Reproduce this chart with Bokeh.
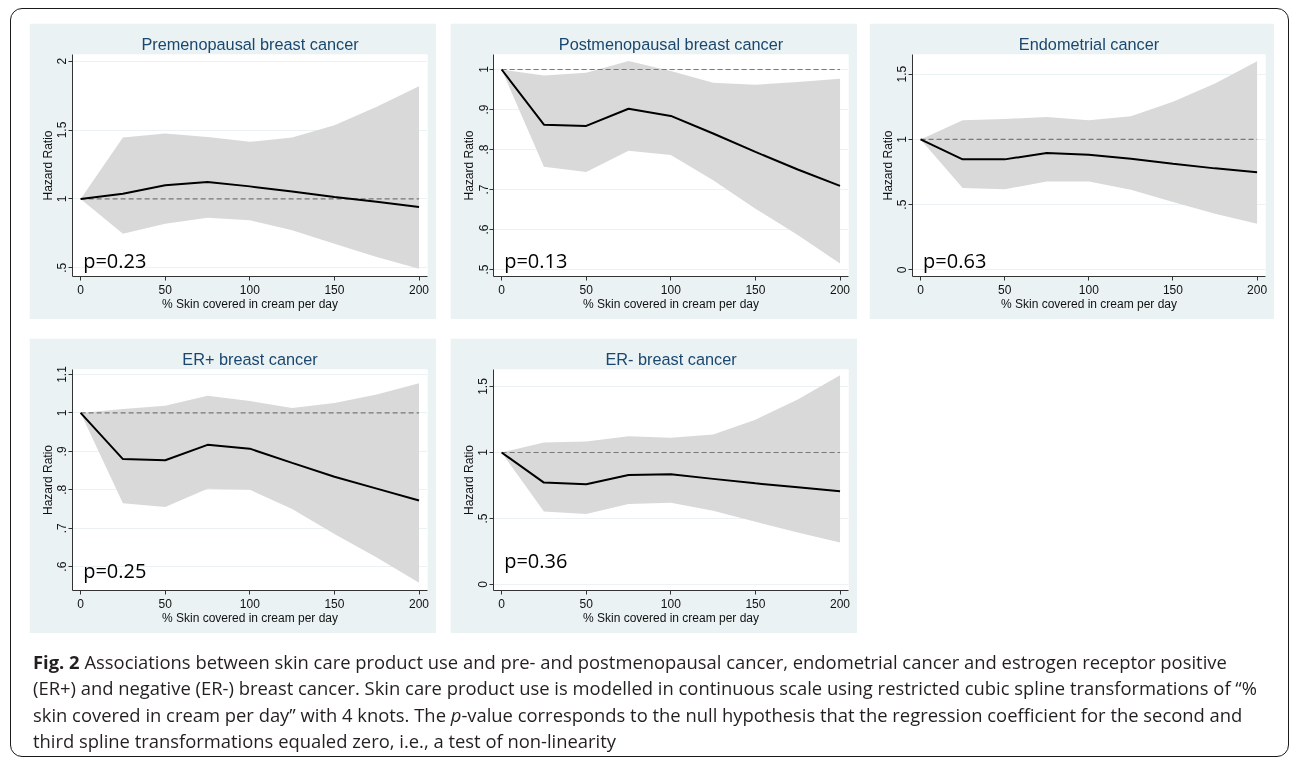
from bokeh.plotting import figure
from bokeh.layouts import row, column
from bokeh.models import Range1d, FixedTicker, Div, Label, Spacer, GlobalInlineStyleSheet
from bokeh.embed import file_html
from bokeh.resources import INLINE

# ---------------- data ----------------
X = [0, 25, 50, 75, 100, 125, 150, 175, 200]

TITLES = ["Premenopausal breast cancer", "Postmenopausal breast cancer",
          "Endometrial cancer", "ER+ breast cancer", "ER- breast cancer"]
PVALS = ["p=0.23", "p=0.13", "p=0.63", "p=0.25", "p=0.36"]

HR_pre = [1.0, 1.038, 1.099, 1.123, 1.091, 1.053, 1.014, 0.980, 0.941]
LO_pre = [1.0, 0.747, 0.820, 0.864, 0.845, 0.772, 0.675, 0.578, 0.493]
UP_pre = [1.0, 1.445, 1.474, 1.450, 1.414, 1.445, 1.535, 1.668, 1.818]

HR_post = [1.0, 0.862, 0.859, 0.902, 0.884, 0.840, 0.794, 0.750, 0.709]
LO_post = [1.0, 0.757, 0.744, 0.797, 0.786, 0.723, 0.652, 0.586, 0.515]
UP_post = [1.0, 0.985, 0.992, 1.021, 0.996, 0.967, 0.962, 0.969, 0.977]

HR_endo = [1.0, 0.847, 0.847, 0.896, 0.883, 0.852, 0.814, 0.778, 0.748]
LO_endo = [1.0, 0.627, 0.617, 0.678, 0.678, 0.614, 0.520, 0.430, 0.353]
UP_endo = [1.0, 1.147, 1.157, 1.172, 1.147, 1.177, 1.288, 1.428, 1.600]

HR_erp = [1.0, 0.880, 0.877, 0.917, 0.907, 0.870, 0.834, 0.803, 0.772]
LO_erp = [1.0, 0.765, 0.755, 0.803, 0.800, 0.750, 0.685, 0.624, 0.558]
UP_erp = [1.0, 1.010, 1.019, 1.045, 1.031, 1.013, 1.026, 1.048, 1.077]

HR_ern = [1.0, 0.772, 0.759, 0.830, 0.835, 0.800, 0.766, 0.736, 0.706]
LO_ern = [1.0, 0.553, 0.533, 0.609, 0.619, 0.558, 0.475, 0.393, 0.317]
UP_ern = [1.0, 1.076, 1.084, 1.124, 1.112, 1.137, 1.249, 1.401, 1.586]

HR = [HR_pre, HR_post, HR_endo, HR_erp, HR_ern]
LO = [LO_pre, LO_post, LO_endo, LO_erp, LO_ern]
UP = [UP_pre, UP_post, UP_endo, UP_erp, UP_ern]

Y_TICKS = [[0.5, 1, 1.5, 2], [0.5, 0.6, 0.7, 0.8, 0.9, 1],
           [0, 0.5, 1, 1.5], [0.6, 0.7, 0.8, 0.9, 1, 1.1], [0, 0.5, 1, 1.5]]
Y_LABELS = [[".5", "1", "1.5", "2"], [".5", ".6", ".7", ".8", ".9", "1"],
            ["0", ".5", "1", "1.5"], [".6", ".7", ".8", ".9", "1", "1.1"],
            ["0", ".5", "1", "1.5"]]
X_TICKS = [0, 50, 100, 150, 200]
X_LABEL = "% Skin covered in cream per day"
Y_LABEL = "Hazard Ratio"

# ---------------- view settings ----------------
Y_RANGES = [(0.437, 2.048), (0.4825, 1.0375), (-0.051, 1.651), (0.538, 1.113), (-0.046, 1.629)]
X_RANGE = (-4.8, 205.0)
PVAL_Y = [0.553, 0.523, 0.072, 0.589, 0.178]
WIDTHS = [407, 407, 405, 407, 407]
HEIGHTS = [296, 296, 296, 295, 295]

BG = "#EAF2F3"
TITLE_COLOR = "#1A476F"
AX = "#333333"
FONT = "Liberation Sans"


def panel(i):
    w, h = WIDTHS[i], HEIGHTS[i]
    p = figure(width=w, height=h, output_backend="svg", toolbar_location=None,
               x_range=Range1d(*X_RANGE), y_range=Range1d(*Y_RANGES[i]),
               min_border_left=43, min_border_right=9, min_border_top=31,
               min_border_bottom=h - 31 - 222 + (1 if h == 295 else 0))
    p.background_fill_color = "white"
    p.border_fill_color = BG
    p.outline_line_color = None

    p.title.text = TITLES[i]
    p.title.align = "center"
    p.title.text_font = FONT
    p.title.text_font_size = "16.3px"
    p.title.text_font_style = "normal"
    p.title.text_color = TITLE_COLOR
    p.title.standoff = 3

    p.varea(x=X, y1=LO[i], y2=UP[i], fill_color="#D9D9D9", fill_alpha=1.0)
    p.line(x=[X[0], X[-1]], y=[1, 1], line_color="#777777", line_width=1.2,
           line_dash="5 3")
    p.line(x=X, y=HR[i], line_color="black", line_width=2)

    p.xgrid.visible = False
    p.ygrid.grid_line_color = BG
    p.ygrid.grid_line_width = 1.2
    p.ygrid.ticker = FixedTicker(ticks=Y_TICKS[i])

    for ax in (p.xaxis[0], p.yaxis[0]):
        ax.axis_line_color = AX
        ax.major_tick_line_color = AX
        ax.minor_tick_line_color = None
        ax.major_tick_out = 4
        ax.major_tick_in = 0
        ax.major_label_standoff = 2
        ax.major_label_text_font = FONT
        ax.major_label_text_font_size = "12px"
        ax.major_label_text_color = "#111111"
        ax.axis_label_text_font = FONT
        ax.axis_label_text_font_size = "12px"
        ax.axis_label_text_font_style = "normal"
        ax.axis_label_text_color = "#111111"
        ax.axis_label_standoff = 0
    p.xaxis.major_label_standoff = 4

    p.xaxis.ticker = FixedTicker(ticks=X_TICKS)
    p.xaxis.axis_label = X_LABEL
    p.yaxis.ticker = FixedTicker(ticks=Y_TICKS[i])
    p.yaxis.major_label_overrides = {t: l for t, l in zip(Y_TICKS[i], Y_LABELS[i])}
    p.yaxis.major_label_orientation = "vertical"
    p.yaxis.axis_label = Y_LABEL

    p.add_layout(Label(x=X[0] + 1.5, y=PVAL_Y[i], text=PVALS[i], text_font="Open Sans",
                       text_font_size="20px", text_color="black", text_align="left",
                       text_baseline="alphabetic"))
    return p


panels = [panel(i) for i in range(5)]

caption_html = (
    '<div style="font-family:\'Open Sans\';font-size:18.4px;line-height:26.3px;color:#231f20;'
    'white-space:nowrap;">'
    '<b>Fig. 2</b> Associations between skin care product use and pre- and postmenopausal cancer, '
    'endometrial cancer and estrogen receptor positive<br>'
    '(ER+) and negative (ER-) breast cancer. Skin care product use is modelled in continuous scale '
    'using restricted cubic spline transformations of \u201c%<br>'
    'skin covered in cream per day\u201d with 4 knots. The <i>p</i>-value corresponds to the null '
    'hypothesis that the regression coefficient for the second and<br>'
    'third spline transformations equaled zero, i.e., a test of non-linearity</div>'
)
caption = Div(text=caption_html, width=1245, height=100)

frame_box = Div(text="", width=1, height=0,
                styles={"position": "fixed", "left": "5px", "top": "3px",
                        "width": "1279px", "height": "749px",
                        "border": "1.5px solid #1a1a1a", "border-radius": "12px",
                        "pointer-events": "none", "box-sizing": "border-box"})

row1 = row(Spacer(width=29), panels[0], Spacer(width=14), panels[1], Spacer(width=12),
           panels[2])
row2 = row(Spacer(width=29), panels[3], Spacer(width=14), panels[4])
row3 = row(Spacer(width=28), caption)

layout = column(frame_box, Spacer(height=23), row1, Spacer(height=19), row2,
                Spacer(height=11), row3,
                stylesheets=[GlobalInlineStyleSheet(css="html, body { overflow: hidden; }")])

open("out.html", "w").write(file_html(layout, INLINE))
